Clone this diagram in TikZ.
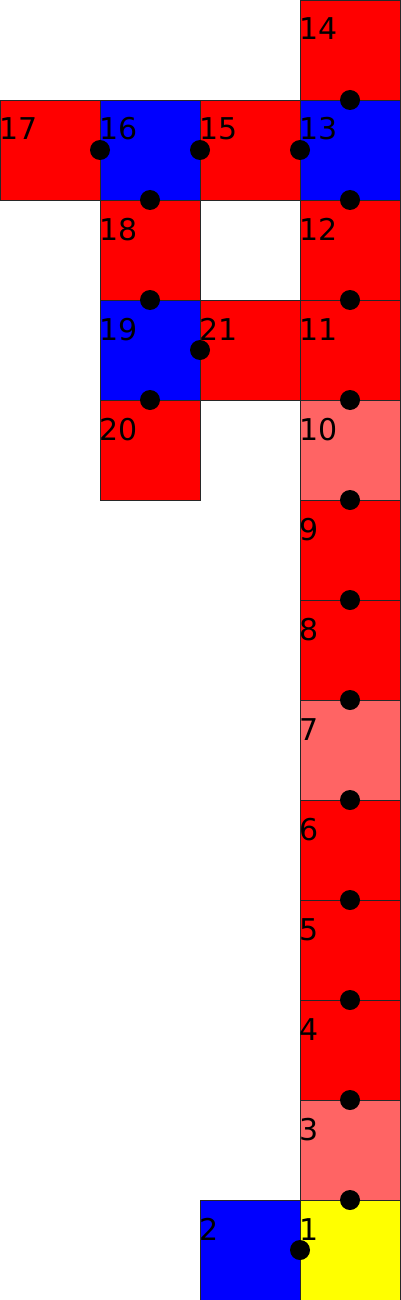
\documentclass[tikz,border=0pt]{standalone}
\usepackage{fontspec}
\setmainfont{DejaVu Sans}
\definecolor{lred}{RGB}{255,100,100}
\definecolor{sqred}{RGB}{255,0,0}
\definecolor{sqblue}{RGB}{0,0,255}
\definecolor{sqyellow}{RGB}{255,255,0}
\definecolor{edge}{RGB}{40,40,40}
\begin{document}
\begin{tikzpicture}[x=1pt,y=-1pt,
  cell/.style={draw=edge,line width=0.8pt,minimum size=100pt,inner sep=0pt,outer sep=0pt,anchor=north west},
  redc/.style={cell,fill=sqred},
  bluec/.style={cell,fill=sqblue},
  lredc/.style={cell,fill=lred},
  yelc/.style={cell,fill=sqyellow},
  lab/.style={anchor=base west,inner sep=0pt,font=\fontsize{30}{35}\selectfont},
  dot/.style={circle,fill=black,minimum size=20pt,inner sep=0pt}]
\useasboundingbox (0,0) rectangle (400,1300);
% cells
\node[redc]  (s14) at (300,0) {};
\node[redc]  (s17) at (0,100) {};
\node[bluec] (s16) at (100,100) {};
\node[redc]  (s15) at (200,100) {};
\node[bluec] (s13) at (300,100) {};
\node[redc]  (s18) at (100,200) {};
\node[redc]  (s12) at (300,200) {};
\node[bluec] (s19) at (100,300) {};
\node[redc]  (s21) at (200,300) {};
\node[redc]  (s11) at (300,300) {};
\node[redc]  (s20) at (100,400) {};
\node[lredc] (s10) at (300,400) {};
\node[redc]  (s9)  at (300,500) {};
\node[redc]  (s8)  at (300,600) {};
\node[lredc] (s7)  at (300,700) {};
\node[redc]  (s6)  at (300,800) {};
\node[redc]  (s5)  at (300,900) {};
\node[redc]  (s4)  at (300,1000) {};
\node[lredc] (s3)  at (300,1100) {};
\node[bluec] (s2)  at (200,1200) {};
\node[yelc]  (s1)  at (300,1200) {};
% labels
\foreach \n/\x/\y in {14/300/0,17/0/100,16/100/100,15/200/100,13/300/100,18/100/200,12/300/200,19/100/300,21/200/300,11/300/300,20/100/400,10/300/400,9/300/500,8/300/600,7/300/700,6/300/800,5/300/900,4/300/1000,3/300/1100,2/200/1200,1/300/1200}
  \node[lab] (l\n) at (\x-1,\y+40) {\n};
% dots
\node[dot] (d1) at (s14.south) {};
\node[dot] (d2) at (s16.west) {};
\node[dot] (d3) at (s16.east) {};
\node[dot] (d4) at (s13.west) {};
\node[dot] (d5) at (s16.south) {};
\node[dot] (d6) at (s13.south) {};
\node[dot] (d7) at (s18.south) {};
\node[dot] (d8) at (s12.south) {};
\node[dot] (d9) at (s19.east) {};
\node[dot] (d10) at (s19.south) {};
\node[dot] (d11) at (s11.south) {};
\node[dot] (d12) at (s10.south) {};
\node[dot] (d13) at (s9.south) {};
\node[dot] (d14) at (s8.south) {};
\node[dot] (d15) at (s7.south) {};
\node[dot] (d16) at (s6.south) {};
\node[dot] (d17) at (s5.south) {};
\node[dot] (d18) at (s4.south) {};
\node[dot] (d19) at (s3.south) {};
\node[dot] (d20) at (s1.west) {};
\end{tikzpicture}
\end{document}
